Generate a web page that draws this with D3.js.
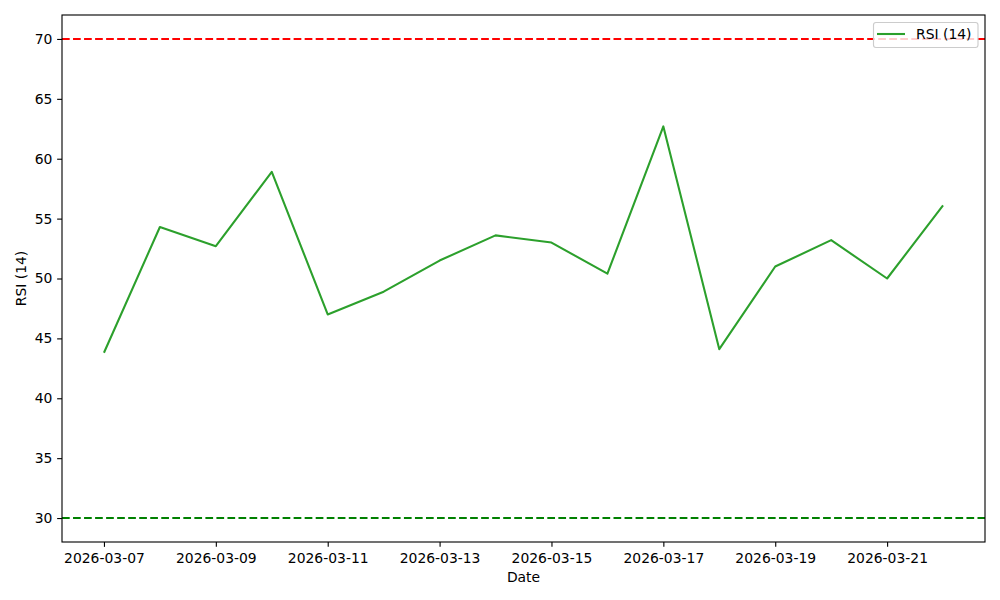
<!DOCTYPE html>
<html><head><meta charset="utf-8">
<script src="https://cdn.jsdelivr.net/npm/d3@7"></script>
<style>body{margin:0;background:#fff}svg{display:block}text{font-family:"DejaVu Sans",sans-serif}</style>
</head><body>
<svg id="c" width="1000" height="600"></svg>
<script>
const dates = ["2026-03-07","2026-03-08","2026-03-09","2026-03-10","2026-03-11","2026-03-12","2026-03-13","2026-03-14","2026-03-15","2026-03-16","2026-03-17","2026-03-18","2026-03-19","2026-03-20","2026-03-21","2026-03-22"];
const rsi = [43.8,54.3,52.7,58.9,47.0,48.9,51.5,53.6,53.0,50.4,62.7,44.1,51.0,53.2,50.0,56.1];
const yTicks = [30,35,40,45,50,55,60,65,70];
const xTickLabels = ["2026-03-07","2026-03-09","2026-03-11","2026-03-13","2026-03-15","2026-03-17","2026-03-19","2026-03-21"];
const overbought = 70, oversold = 30;
const seriesName = "RSI (14)";

const parse = d3.utcParse("%Y-%m-%d");
const xs = dates.map(parse);
const m = {l:62, r:985, t:15, b:542};
const svg = d3.select("#c");
const day = 864e5;
const x = d3.scaleUtc().domain([+xs[0]-0.75*day, +xs[xs.length-1]+0.75*day]).range([m.l, m.r]);
const y = d3.scaleLinear().domain([28,72]).range([m.b, m.t]);
const fs = "13.9px";
const lw = 2.08;

// threshold lines
svg.append("line").attr("x1",m.l).attr("x2",m.r).attr("y1",y(overbought)).attr("y2",y(overbought))
  .attr("stroke","#ff0000").attr("stroke-width",lw).attr("stroke-dasharray","7.7,3.33");
svg.append("line").attr("x1",m.l).attr("x2",m.r).attr("y1",y(oversold)).attr("y2",y(oversold))
  .attr("stroke","#008000").attr("stroke-width",lw).attr("stroke-dasharray","7.7,3.33");

// series
svg.append("path").datum(xs.map((d,i)=>[d,rsi[i]]))
  .attr("fill","none").attr("stroke","#2ca02c").attr("stroke-width",lw).attr("stroke-linejoin","round")
  .attr("d", d3.line().x(d=>x(d[0])).y(d=>y(d[1])));

// axes
const xa = svg.append("g").attr("transform",`translate(0,${m.b})`)
  .call(d3.axisBottom(x).tickValues(xTickLabels.map(parse)).tickFormat(d3.utcFormat("%Y-%m-%d")).tickSize(4.86).tickPadding(4.8));
const ya = svg.append("g").attr("transform",`translate(${m.l},0)`)
  .call(d3.axisLeft(y).tickValues(yTicks).tickSize(4.86).tickPadding(4.8));
[xa,ya].forEach(g=>{
  g.select(".domain").remove();
  g.selectAll("line").attr("stroke","#000").attr("stroke-width",1.11);
  g.selectAll("text").attr("font-size",fs).attr("fill","#000").attr("font-family","DejaVu Sans");
});
xa.selectAll("text").attr("dy","0.85em");

// frame
svg.append("rect").attr("x",m.l).attr("y",m.t).attr("width",m.r-m.l).attr("height",m.b-m.t)
  .attr("fill","none").attr("stroke","#000").attr("stroke-width",1.11);

// labels
svg.append("text").attr("x",(m.l+m.r)/2).attr("y",582).attr("text-anchor","middle").attr("font-size",fs).text("Date");
svg.append("text").attr("transform",`translate(26,${(m.t+m.b)/2}) rotate(-90)`).attr("text-anchor","middle").attr("font-size",fs).text(seriesName);

// legend
const lg = svg.append("g");
lg.append("rect").attr("x",873.5).attr("y",22.5).attr("width",104.5).attr("height",25).attr("rx",2.5)
  .attr("fill","#fff").attr("fill-opacity",0.8).attr("stroke","#ccc").attr("stroke-width",1.11);
lg.append("line").attr("x1",877).attr("x2",905).attr("y1",34).attr("y2",34).attr("stroke","#2ca02c").attr("stroke-width",lw);
lg.append("text").attr("x",916).attr("y",39).attr("font-size",fs).text(seriesName);
</script>
</body></html>
